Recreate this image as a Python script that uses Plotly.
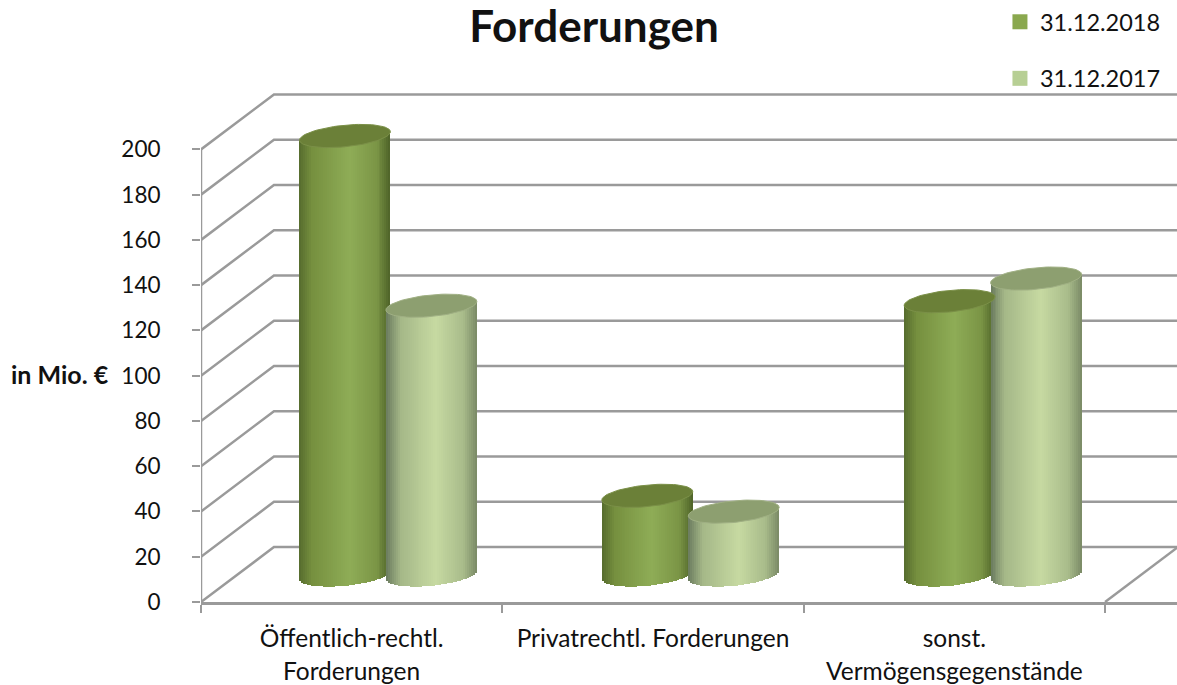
import numpy as np
import plotly.graph_objects as go

categories = ["Öffentlich-rechtl.", "Privatrechtl. Forderungen", "sonst."]
categories_line2 = ["Forderungen", "", "Vermögensgegenstände"]
values_2018 = [194, 35, 121]
values_2017 = [119, 28, 131]
series_names = ["31.12.2018", "31.12.2017"]
y_ticks = list(range(0, 201, 20))

PX_X, PX_Y = 301.5, 2.265       # pixels per category / per unit
DEPTH_X, DEPTH_Y = 73 / PX_X, 55 / PX_Y
X_MAX = (1177 - 200.5) / PX_X
Y_MAX = 602.5 / PX_Y
RADIUS = 45.5 / PX_X
OFFSET = 43.25 / PX_X
ELL_B = 10.8 / PX_Y
SHEAR = (8.5 / 91) * PX_X / PX_Y
BASE = 27 / PX_Y
SPACING = 302.5 / PX_X
N = 46
GRID = "#9a9a9a"

dark_stops = [(0, "#566c2e"), (.14, "#76903f"), (.55, "#8fad57"), (.85, "#7b9546"), (1, "#4e6328")]
light_stops = [(0, "#6b7b5f"), (.16, "#a5b888"), (.55, "#c7daa2"), (.85, "#a9bc8b"), (1, "#7a8a66")]
top_colors = ["#6b8038", "#8d9f70"]
rim_colors = ["#7b9048", "#a0b084"]
legend_colors = ["#8aa84e", "#b7cf94"]


def hex2rgb(h):
    return np.array([int(h[i:i + 2], 16) for i in (1, 3, 5)], float)


def grad(stops, t):
    pos = [s[0] for s in stops]
    rgb = np.array([hex2rgb(s[1]) for s in stops])
    return [f"rgb({int(np.interp(v, pos, rgb[:, 0]))},{int(np.interp(v, pos, rgb[:, 1]))},{int(np.interp(v, pos, rgb[:, 2]))})" for v in t]


def centre(c, off):
    return c * SPACING + 0.5 + DEPTH_X / 2 + off


fig = go.Figure()

# wall and floor lines on primary axes
gx, gy = [], []
for v in y_ticks:
    gx += [0, DEPTH_X, X_MAX, None]
    gy += [v, v + DEPTH_Y, v + DEPTH_Y, None]
gx += [3, 3 + DEPTH_X, None]
gy += [0, DEPTH_Y, None]
fig.add_trace(go.Scatter(x=gx, y=gy, mode="lines", line=dict(color=GRID, width=2.5),
                         showlegend=False, hoverinfo="skip"))

# cylinders on the overlay axes
for s, (vals, stops, off) in enumerate([(values_2018, dark_stops, -OFFSET), (values_2017, light_stops, OFFSET)]):
    edges = np.linspace(-RADIUS, RADIUS, N + 1)
    mids = (edges[:-1] + edges[1:]) / 2
    t = (mids + RADIUS) / (2 * RADIUS)
    colors = grad(stops, t)
    xs, bases, hs, cs = [], [], [], []
    for c, v in enumerate(vals):
        cx = centre(c, off)
        low = BASE + SHEAR * mids - ELL_B * np.sqrt(np.clip(1 - (mids / RADIUS) ** 2, 0, 1))
        top = BASE + v + SHEAR * mids
        xs += list(cx + mids)
        bases += list(low)
        hs += list(top - low)
        cs += colors
    fig.add_trace(go.Bar(x=xs, y=hs, base=bases, width=2 * RADIUS / N * 1.04,
                         marker=dict(color=cs, line=dict(width=0)),
                         xaxis="x2", yaxis="y2", showlegend=False, hoverinfo="skip"))
for s, (vals, off) in enumerate([(values_2018, -OFFSET), (values_2017, OFFSET)]):
    th = np.linspace(0, 2 * np.pi, 80)
    for c, v in enumerate(vals):
        cx = centre(c, off)
        ex = RADIUS * np.cos(th)
        ey = BASE + v + SHEAR * ex + ELL_B * np.sin(th)
        fig.add_trace(go.Scatter(x=cx + ex, y=ey, mode="lines", fill="toself",
                                 fillcolor=top_colors[s], line=dict(color=rim_colors[s], width=1),
                                 xaxis="x2", yaxis="y2", showlegend=False, hoverinfo="skip"))

# legend entries
for s, name in enumerate(series_names):
    fig.add_trace(go.Scatter(x=[None], y=[None], mode="markers", name=name, legendgroup=name,
                             marker=dict(symbol="square", size=15, color=legend_colors[s])))

fig.update_layout(
    width=1177, height=685,
    margin=dict(l=200.5, r=0, t=0, b=82.5),
    paper_bgcolor="white", plot_bgcolor="white",
    font=dict(family="Lato", size=22.5, color="#111111"),
    barmode="overlay", bargap=0,
    title=dict(text="<b>Forderungen</b>", x=594 / 1177, xanchor="center", xref="container",
               y=0.961, yanchor="middle", font=dict(family="Lato", size=44, color="#111111")),
    xaxis=dict(range=[0, X_MAX], tickmode="array", tickvals=[0.5, 1.5, 2.5], ticktext=categories,
               ticks="", showgrid=False, zeroline=False, showline=True, linecolor=GRID, linewidth=2.5,
               ticklabelstandoff=13, tickfont=dict(size=24.5),
               minor=dict(tickmode="array", tickvals=[0, 1, 2, 3], ticks="outside", ticklen=8, tickwidth=2,
                          tickcolor=GRID, showgrid=False)),
    yaxis=dict(range=[0, Y_MAX], tickmode="array", tickvals=y_ticks, ticks="outside", ticklen=8, tickwidth=2,
               tickcolor=GRID, showgrid=False, zeroline=False, ticklabelstandoff=27),
    xaxis2=dict(range=[0, X_MAX], overlaying="x", visible=False),
    yaxis2=dict(range=[0, Y_MAX], overlaying="y", visible=False),
    legend=dict(x=0.8186, xanchor="left", y=1.0, yanchor="top", tracegroupgap=23,
                font=dict(size=23.5), bgcolor="rgba(0,0,0,0)", itemclick=False),
    shapes=[dict(type="line", xref="x", yref="y", x0=0, x1=0, y0=0, y1=200,
                 line=dict(color=GRID, width=2.5))],
    annotations=[
        dict(text=t, x=i + 0.5, xref="x", y=(602.5 - 671) / 602.5, yref="paper", showarrow=False, xanchor="center",
             yanchor="middle", font=dict(size=24.5))
        for i, t in enumerate(categories_line2) if t
    ] + [dict(text="<b>in Mio. €</b>", x=(59 - 200.5) / 976.5, xref="paper", xanchor="center", y=100, yref="y",
              yshift=2, showarrow=False, font=dict(size=25))],
)

fig.write_html("out.html", config={"displayModeBar": False},
               post_script="document.body.style.margin='0';document.body.style.overflow='hidden';")
